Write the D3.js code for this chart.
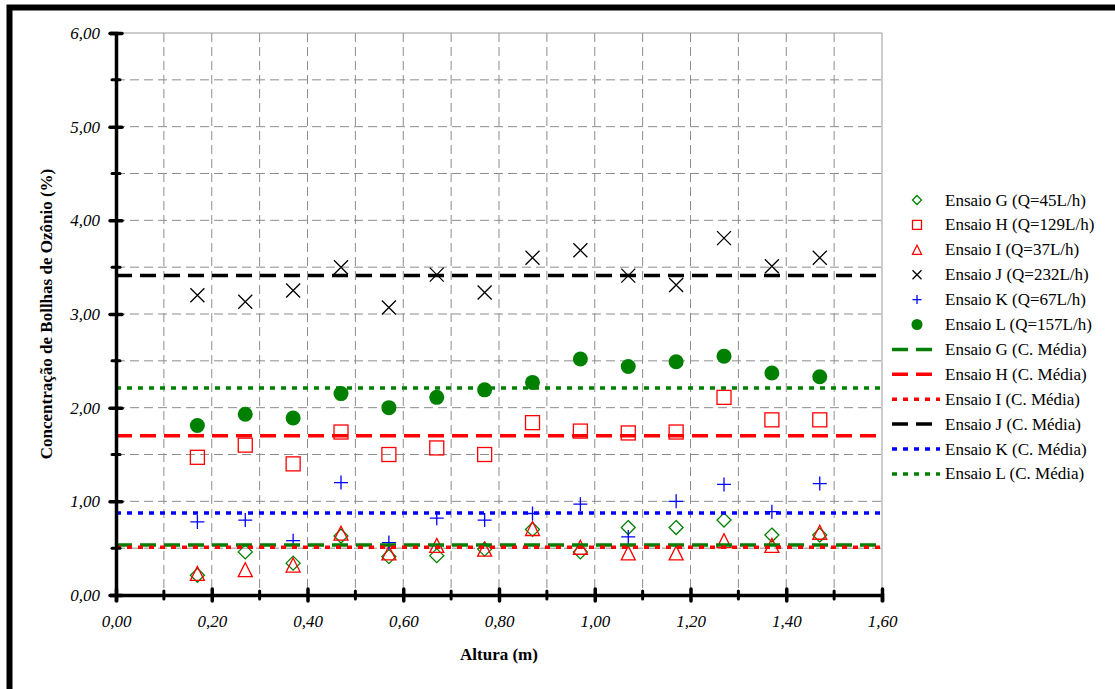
<!DOCTYPE html>
<html>
  <head>
    <meta charset="utf-8" />
    <title>Concentração de Bolhas de Ozônio</title>
    <script src="https://d3js.org/d3.v7.min.js"></script>
    <style>
      body { margin: 0; background: #fff; }
      text { font-family: "Liberation Serif", "Times New Roman", serif; }
    </style>
  </head>
  <body>
    <svg width="1115" height="689" font-family="Liberation Serif"></svg>
    <script>
      // dados
      var alturas = [0.17, 0.27, 0.37, 0.47, 0.57, 0.67, 0.77, 0.87, 0.97, 1.07, 1.17, 1.27, 1.37, 1.47];
      var ensaioG = [0.21, 0.46, 0.34, 0.63, 0.41, 0.42, 0.49, 0.70, 0.46, 0.72, 0.72, 0.80, 0.64, 0.64];
      var ensaioH = [1.47, 1.60, 1.40, 1.74, 1.50, 1.57, 1.50, 1.84, 1.75, 1.73, 1.74, 2.11, 1.87, 1.87];
      var ensaioI = [0.23, 0.27, 0.32, 0.66, 0.45, 0.53, 0.49, 0.71, 0.51, 0.45, 0.45, 0.58, 0.53, 0.67];
      var ensaioJ = [3.20, 3.13, 3.25, 3.50, 3.07, 3.42, 3.23, 3.60, 3.68, 3.41, 3.31, 3.81, 3.51, 3.60];
      var ensaioK = [0.78, 0.80, 0.58, 1.20, 0.56, 0.82, 0.80, 0.87, 0.97, 0.62, 1.00, 1.18, 0.89, 1.19];
      var ensaioL = [1.81, 1.93, 1.89, 2.15, 2.00, 2.11, 2.19, 2.27, 2.52, 2.44, 2.49, 2.55, 2.37, 2.33];
      var medias = [0.535, 1.70, 0.51, 3.41, 0.875, 2.21];

      var nomes = ["G", "H", "I", "J", "K", "L"];
      var vazoes = ["45", "129", "37", "232", "67", "157"];
      var cores = ["#008000", "#ff0000", "#ff0000", "#000000", "#0000ff", "#008000"];
      var simbolos = ["diamond", "square", "triangle", "x", "plus", "circle"];
      var tracos = ["16,8", "16,8", "5,6", "16,8", "5,6", "5,6"];
      var valores = [ensaioG, ensaioH, ensaioI, ensaioJ, ensaioK, ensaioL];

      var yTicks = [0, 1, 2, 3, 4, 5, 6];
      var xTicks = [0, 0.2, 0.4, 0.6, 0.8, 1.0, 1.2, 1.4, 1.6];

      var svg = d3.select("svg");
      var fmt = function (v) { return v.toFixed(2).replace(".", ","); };

      // moldura
      svg.append("rect")
        .attr("x", 9.5).attr("y", 7.5)
        .attr("width", 1300).attr("height", 900)
        .attr("fill", "none").attr("stroke", "#000").attr("stroke-width", 6);

      var x = d3.scaleLinear().domain([0, 1.6]).range([116, 882]);
      var y = d3.scaleLinear().domain([0, 6]).range([595, 33]);

      // grade
      var grid = svg.append("g");
      grid.selectAll(".gv").data(d3.range(1, 16).map(function (i) { return i / 10; }))
        .enter().append("line")
        .attr("x1", function (d) { return x(d); }).attr("x2", function (d) { return x(d); })
        .attr("y1", y(6)).attr("y2", y(0))
        .attr("stroke", "#8c8c8c").attr("stroke-dasharray", "9,5");
      grid.selectAll(".gh").data(d3.range(1, 12).map(function (i) { return i / 2; }))
        .enter().append("line")
        .attr("x1", x(0)).attr("x2", x(1.6))
        .attr("y1", function (d) { return y(d); }).attr("y2", function (d) { return y(d); })
        .attr("stroke", "#8c8c8c").attr("stroke-dasharray", "9,5");
      grid.append("line").attr("x1", x(0)).attr("x2", x(1.6)).attr("y1", y(6)).attr("y2", y(6))
        .attr("stroke", "#999");
      grid.append("line").attr("x1", x(1.6)).attr("x2", x(1.6)).attr("y1", y(6)).attr("y2", y(0))
        .attr("stroke", "#999");

      function simbolo(g, tipo, cor, s) {
        if (tipo === "diamond") {
          g.append("path").attr("d", "M0," + -s + "L" + s + ",0L0," + s + "L" + -s + ",0Z")
            .attr("fill", "none").attr("stroke", cor).attr("stroke-width", 1.3);
        } else if (tipo === "square") {
          g.append("rect").attr("x", -s).attr("y", -s).attr("width", 2 * s).attr("height", 2 * s)
            .attr("fill", "none").attr("stroke", cor).attr("stroke-width", 1.3);
        } else if (tipo === "triangle") {
          g.append("path").attr("d", "M0," + -s + "L" + s + "," + s + "L" + -s + "," + s + "Z")
            .attr("fill", "none").attr("stroke", cor).attr("stroke-width", 1.3);
        } else if (tipo === "x") {
          g.append("path").attr("d", "M" + -s + "," + -s + "L" + s + "," + s + "M" + s + "," + -s + "L" + -s + "," + s)
            .attr("stroke", cor).attr("stroke-width", 1.3);
        } else if (tipo === "plus") {
          g.append("path").attr("d", "M" + -s + ",0L" + s + ",0M0," + -s + "L0," + s)
            .attr("stroke", cor).attr("stroke-width", 1.3);
        } else {
          g.append("circle").attr("r", s).attr("fill", cor);
        }
      }

      // pontos
      valores.forEach(function (serie, k) {
        svg.append("g").selectAll("g").data(serie).enter().append("g")
          .attr("transform", function (d, i) { return "translate(" + x(alturas[i]) + "," + y(d) + ")"; })
          .each(function () { simbolo(d3.select(this), simbolos[k], cores[k], k === 5 ? 7.5 : 7); });
      });

      // medias
      svg.append("g").selectAll("line").data(medias).enter().append("line")
        .attr("x1", x(0)).attr("x2", x(1.6))
        .attr("y1", function (d) { return y(d); }).attr("y2", function (d) { return y(d); })
        .attr("stroke", function (d, i) { return cores[i]; })
        .attr("stroke-width", 3.5)
        .attr("stroke-dasharray", function (d, i) { return tracos[i]; });

      // eixos
      var yAxis = svg.append("g").attr("transform", "translate(" + x(0) + ",0)")
        .call(d3.axisLeft(y).tickValues(yTicks).tickFormat(fmt).tickSize(6).tickPadding(10));
      var xAxis = svg.append("g").attr("transform", "translate(0," + y(0) + ")")
        .call(d3.axisBottom(x).tickValues(xTicks).tickFormat(fmt).tickSize(7).tickPadding(13));
      [xAxis, yAxis].forEach(function (a) {
        a.attr("font-family", "Liberation Serif");
        a.select(".domain").attr("stroke", "#000").attr("stroke-width", 3.5);
        a.selectAll(".tick line").attr("stroke", "#000").attr("stroke-width", 3.5).attr("stroke-linecap", "round");
        a.selectAll("text").attr("font-family", "Liberation Serif").attr("font-style", "italic")
          .attr("font-size", 17).attr("fill", "#000");
      });
      yAxis.selectAll(".tick line").attr("x1", 6).attr("x2", -6);
      xAxis.selectAll(".tick line").attr("y1", -6).attr("y2", 6);
      // marcas menores
      svg.append("g").selectAll("line").data([0.5, 1.5, 2.5, 3.5, 4.5, 5.5]).enter().append("line")
        .attr("x1", x(0) - 4).attr("x2", x(0) + 4)
        .attr("y1", function (d) { return y(d); }).attr("y2", function (d) { return y(d); })
        .attr("stroke", "#000").attr("stroke-width", 3).attr("stroke-linecap", "round");
      svg.append("g").selectAll("line").data([0.1, 0.3, 0.5, 0.7, 0.9, 1.1, 1.3, 1.5]).enter().append("line")
        .attr("x1", function (d) { return x(d); }).attr("x2", function (d) { return x(d); })
        .attr("y1", y(0) - 4).attr("y2", y(0) + 4)
        .attr("stroke", "#000").attr("stroke-width", 3).attr("stroke-linecap", "round");

      // titulos
      svg.append("text").attr("x", 499).attr("y", 660).attr("text-anchor", "middle")
        .attr("font-weight", "bold").attr("font-size", 17).text("Altura (m)");
      svg.append("text").attr("transform", "translate(52,314) rotate(-90)").attr("text-anchor", "middle")
        .attr("font-weight", "bold").attr("font-size", 17).text("Concentração de Bollhas de Ozônio (%)");

      // legenda
      var leg = svg.append("g");
      nomes.forEach(function (n, i) {
        var yy = 200 + i * 24.9;
        var g = leg.append("g").attr("transform", "translate(917," + yy + ")");
        simbolo(g, simbolos[i], cores[i], i === 5 ? 5.5 : 4.5);
        leg.append("text").attr("x", 945).attr("y", yy + 5.5).attr("font-size", 17)
          .text("Ensaio " + n + " (Q=" + vazoes[i] + "L/h)");
      });
      nomes.forEach(function (n, i) {
        var yy = 200 + (i + 6) * 24.9;
        leg.append("line").attr("x1", 892).attr("x2", 940).attr("y1", yy).attr("y2", yy)
          .attr("stroke", cores[i]).attr("stroke-width", 3.5).attr("stroke-dasharray", tracos[i]);
        leg.append("text").attr("x", 945).attr("y", yy + 5.5).attr("font-size", 17)
          .text("Ensaio " + n + " (C. Média)");
      });
    </script>
  </body>
</html>
